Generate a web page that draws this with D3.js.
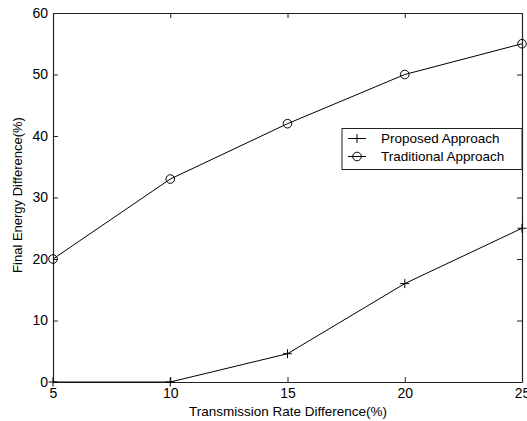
<!DOCTYPE html>
<html><head><meta charset="utf-8">
<script src="https://cdn.jsdelivr.net/npm/d3@7"></script>
<style>body{margin:0;background:#fff}svg{display:block}text{font-family:"Liberation Sans",Arial,sans-serif;fill:#000}</style>
</head><body>
<svg id="c" width="527" height="421"></svg>
<script>
const xValues = [5, 10, 15, 20, 25];
const proposed = [0, 0, 4.6, 16, 25];
const traditional = [20, 33, 42, 50, 55];
const xTicks = [5, 10, 15, 20, 25];
const yTicks = [0, 10, 20, 30, 40, 50, 60];
const seriesNames = ["Proposed Approach", "Traditional Approach"];

const svg = d3.select("#c");
const L = 53, R = 522, T = 13, B = 382;
const x = d3.scaleLinear().domain([5, 25]).range([L, R]);
const y = d3.scaleLinear().domain([0, 60]).range([B, T]);

const frame = "#222";
const gB = svg.append("g").attr("transform", `translate(0,${B})`)
  .call(d3.axisBottom(x).tickValues(xTicks).tickSizeInner(-5).tickSizeOuter(0).tickPadding(6));
const gT = svg.append("g").attr("transform", `translate(0,${T})`)
  .call(d3.axisTop(x).tickValues(xTicks).tickSizeInner(-5).tickSizeOuter(0).tickFormat(""));
const gL = svg.append("g").attr("transform", `translate(${L},0)`)
  .call(d3.axisLeft(y).tickValues(yTicks).tickSizeInner(-5).tickSizeOuter(0).tickPadding(6));
const gR = svg.append("g").attr("transform", `translate(${R},0)`)
  .call(d3.axisRight(y).tickValues(yTicks).tickSizeInner(-5).tickSizeOuter(0).tickFormat(""));
[gB, gT, gL, gR].forEach(g => {
  g.select(".domain").attr("stroke", frame).attr("stroke-width", 1.2);
  g.selectAll(".tick line").attr("stroke", frame);
  g.selectAll(".tick text").attr("font-size", 14).attr("font-family", '"Liberation Sans",Arial,sans-serif').attr("fill", "#000");
});
gB.selectAll(".tick text").attr("dy", "0.71em");
gL.selectAll(".tick text").attr("x", -5);

const line = d3.line().x(d => x(d[0])).y(d => y(d[1]));
const pData = xValues.map((v, i) => [v, proposed[i]]);
const tData = xValues.map((v, i) => [v, traditional[i]]);

svg.append("path").datum(pData).attr("d", line).attr("fill", "none").attr("stroke", "#000").attr("stroke-width", 1);
svg.append("path").datum(tData).attr("d", line).attr("fill", "none").attr("stroke", "#000").attr("stroke-width", 1);

const plus = (g, cx, cy, s) => {
  g.append("path").attr("d", `M${cx - s},${cy}H${cx + s}M${cx},${cy - s}V${cy + s}`)
    .attr("stroke", "#000").attr("stroke-width", 1).attr("fill", "none");
};
const circ = (g, cx, cy, r) => {
  g.append("circle").attr("cx", cx).attr("cy", cy).attr("r", r)
    .attr("fill", "none").attr("stroke", "#000").attr("stroke-width", 1);
};
const mk = svg.append("g");
pData.forEach(d => plus(mk, x(d[0]), y(d[1]), 4.5));
tData.forEach(d => circ(mk, x(d[0]), y(d[1]), 4.3));

svg.append("text").attr("x", 288).attr("y", 416).attr("text-anchor", "middle")
  .attr("font-size", 13.5).text("Transmission Rate Difference(%)");
svg.append("text").attr("transform", "translate(22,195) rotate(-90)").attr("text-anchor", "middle")
  .attr("font-size", 13).text("Final Energy Difference(%)");

const lg = svg.append("g");
lg.append("rect").attr("x", 342).attr("y", 128.5).attr("width", 180).attr("height", 41)
  .attr("fill", "#fff").attr("stroke", frame).attr("stroke-width", 1);
seriesNames.forEach((name, i) => {
  const cy = 138.5 + i * 18;
  lg.append("line").attr("x1", 348).attr("x2", 366).attr("y1", cy).attr("y2", cy)
    .attr("stroke", "#000").attr("stroke-width", 1);
  if (i === 0) plus(lg, 357, cy, 4.5); else circ(lg, 357, cy, 4.3);
  lg.append("text").attr("x", 381).attr("y", cy + 4.5).attr("font-size", 13.5).text(name);
});
</script>
</body></html>
